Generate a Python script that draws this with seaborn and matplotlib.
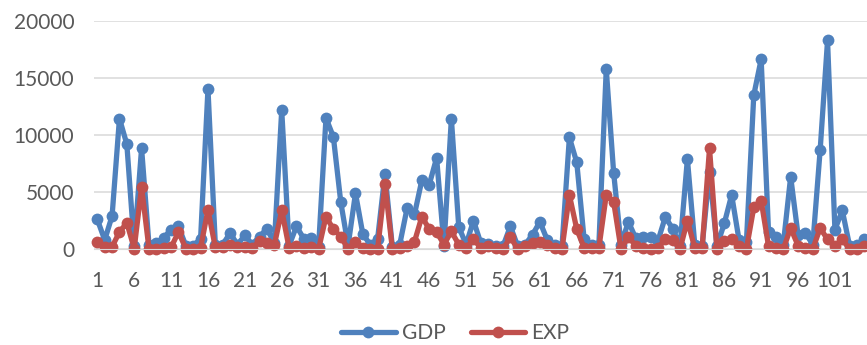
import pandas as pd
import matplotlib.pyplot as plt
import seaborn as sns

# values, index 1..105
gdp = [2600, 800, 2900, 11450, 9200, 300, 8850, 400, 500, 1000,
       1700, 2000, 300, 300, 900, 14050, 400, 400, 1400, 400,
       1200, 400, 1100, 1800, 500, 12200, 300, 2000, 900, 1000,
       200, 11500, 9850, 4150, 300, 4900, 1300, 400, 900, 6600,
       200, 400, 3600, 3050, 6050, 5650, 8000, 300, 11450, 1950,
       400, 2500, 500, 450, 250, 250, 2000, 250, 400, 1250,
       2400, 800, 400, 250, 9800, 7600, 850, 400, 400, 15800,
       6700, 400, 2400, 950, 1050, 1050, 700, 2800, 1800, 250,
       7900, 400, 250, 6800, 250, 2250, 4750, 800, 600, 13500,
       16650, 1500, 1100, 400, 6350, 1250, 1400, 400, 8700, 18300,
       1700, 3400, 250, 400, 850]
exp = [600, 200, 200, 1500, 2300, 50, 5450, 50, 50, 100,
       150, 1500, 50, 50, 100, 3450, 150, 200, 350, 150,
       150, 100, 700, 500, 350, 3400, 100, 300, 100, 200,
       0, 2850, 1750, 1100, 0, 650, 100, 0, 0, 5700,
       0, 100, 250, 650, 2850, 1750, 1500, 400, 1550, 400,
       100, 850, 100, 300, 100, 0, 1050, 0, 250, 500,
       650, 400, 100, 0, 4750, 1750, 100, 100, 100, 4750,
       4150, 0, 1050, 300, 100, 0, 100, 850, 800, 0,
       2500, 100, 100, 8850, 0, 750, 850, 250, 0, 3650,
       4250, 250, 100, 0, 1850, 300, 100, 0, 1850, 850,
       250, 850, 0, 0, 250]
idx = list(range(1, len(gdp) + 1))
xticks = list(range(1, 106, 5))

df = pd.DataFrame({'idx': idx, 'GDP': gdp, 'EXP': exp})

sns.set_style('white')
plt.rcParams['font.family'] = ['Lato', 'DejaVu Sans']

fig = plt.figure(figsize=(8.67, 3.45), dpi=100)
ax = fig.add_axes([0.108, 0.278, 0.892, 0.661])

kw = dict(linewidth=3.8, marker='o', markersize=8.5, markeredgewidth=0, clip_on=False)
sns.lineplot(data=df, x='idx', y='GDP', color='#4F81BD', label='GDP', legend=False, ax=ax, **kw)
sns.lineplot(data=df, x='idx', y='EXP', color='#C0504D', label='EXP', legend=False, ax=ax, **kw)

ax.set_xlim(0.5, 105.35)
ax.set_ylim(0, 20000)
ax.set_yticks([0, 5000, 10000, 15000, 20000])
ax.set_xticks(xticks)
ax.set_xticklabels([str(t) for t in xticks])
ax.yaxis.grid(True, color='#D9D9D9', linewidth=1.1)
ax.set_axisbelow(True)
for s in ['top', 'right', 'left']:
    ax.spines[s].set_visible(False)
ax.spines['bottom'].set_color('#D9D9D9')
ax.tick_params(axis='both', length=0, labelsize=15, colors='#595959')
ax.tick_params(axis='y', pad=14)
ax.tick_params(axis='x', pad=16)
ax.set_xlabel('')
ax.set_ylabel('')

h, l = ax.get_legend_handles_labels()
fig.legend(h, l, loc='center', bbox_to_anchor=(0.525, 0.035), ncol=2, frameon=False,
           fontsize=15, labelcolor='#595959', handlelength=2.6, handletextpad=0.3,
           columnspacing=1.2)

fig.savefig('out.png', dpi=100)
